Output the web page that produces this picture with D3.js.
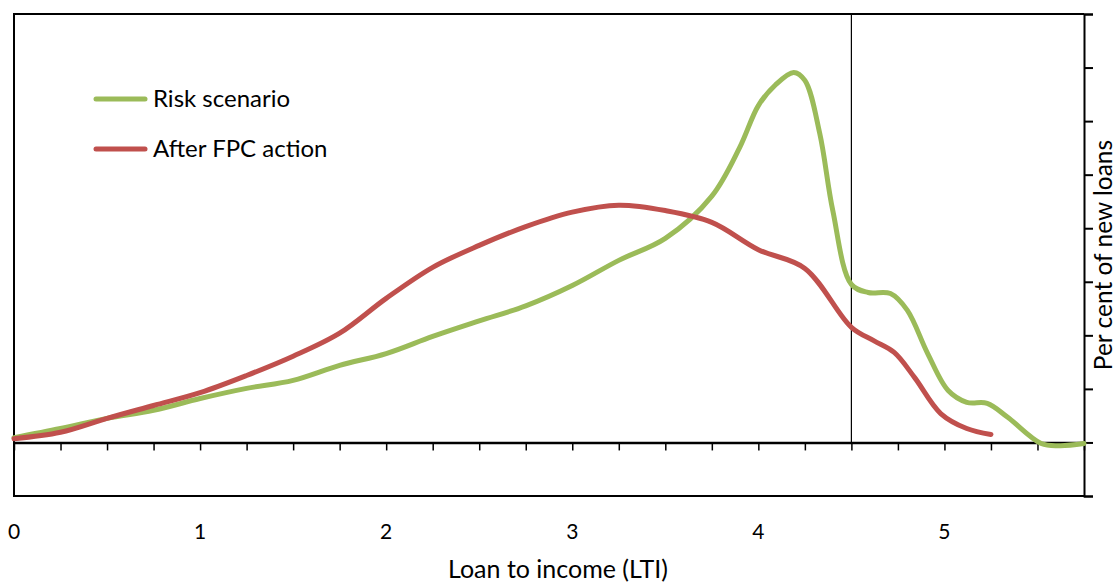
<!DOCTYPE html>
<html>
<head>
<meta charset="utf-8">
<script src="https://cdn.jsdelivr.net/npm/d3@7"></script>
<style>
  body { margin: 0; background: #fff; }
  text { font-family: Lato, "Open Sans", sans-serif; fill: #000; }
</style>
</head>
<body>
<div id="chart"></div>
<script>
// LTI values and density (arbitrary units)
const riskLti = [0, 0.25, 0.5, 0.75, 1.0, 1.25, 1.5, 1.75, 2.0, 2.25, 2.5, 2.75, 3.0, 3.25, 3.5, 3.75, 3.9, 4.0, 4.09, 4.19, 4.25, 4.33, 4.4, 4.5, 4.59, 4.71, 4.8, 4.91, 5.02, 5.12, 5.23, 5.34, 5.52, 5.62, 5.75];
const riskValues = [0.09, 0.26, 0.45, 0.6, 0.82, 1.01, 1.16, 1.44, 1.66, 1.98, 2.27, 2.55, 2.93, 3.4, 3.81, 4.6, 5.51, 6.29, 6.67, 6.91, 6.76, 5.77, 4.33, 2.95, 2.8, 2.78, 2.47, 1.66, 0.97, 0.75, 0.73, 0.47, -0.02, -0.06, -0.02];

const fpcLti = [0, 0.25, 0.5, 0.75, 1.0, 1.25, 1.5, 1.75, 2.0, 2.25, 2.5, 2.75, 3.0, 3.25, 3.5, 3.75, 4.0, 4.25, 4.5, 4.62, 4.73, 4.84, 4.98, 5.12, 5.25];
const fpcValues = [0.07, 0.19, 0.45, 0.69, 0.93, 1.25, 1.61, 2.04, 2.69, 3.27, 3.68, 4.03, 4.3, 4.43, 4.33, 4.11, 3.6, 3.25, 2.15, 1.9, 1.68, 1.21, 0.54, 0.26, 0.15];

const seriesNames = ["Risk scenario", "After FPC action"];
const seriesColors = ["#9bbb59", "#c0504d"];
const xTickLabels = [0, 1, 2, 3, 4, 5];
const ltiLimit = 4.5;

const width = 1116, height = 582;
const margin = { top: 14, right: 32, bottom: 86, left: 14 };
const innerW = width - margin.left - margin.right;
const innerH = height - margin.top - margin.bottom;

const svg = d3.select("#chart").append("svg")
  .attr("width", width)
  .attr("height", height);

const g = svg.append("g")
  .attr("transform", `translate(${margin.left},${margin.top})`);

const x = d3.scaleLinear().domain([0, 5.75]).range([0, innerW]);
const y = d3.scaleLinear().domain([-1, 8]).range([innerH, 0]);

// plot frame (left, top, bottom)
g.append("path")
  .attr("d", `M${innerW},0H0V${innerH}H${innerW}`)
  .attr("fill", "none")
  .attr("stroke", "#000")
  .attr("stroke-width", 2);

// right axis, no labels
const yAxis = g.append("g")
  .attr("transform", `translate(${innerW},0)`)
  .call(d3.axisRight(y).tickValues(d3.range(-1, 9)).tickSize(9).tickFormat(""));
yAxis.select(".domain").attr("stroke-width", 2);
yAxis.selectAll(".tick line").attr("stroke-width", 2);

// zero axis with quarter ticks
const xAxis = g.append("g")
  .attr("transform", `translate(0,${y(0)})`)
  .call(d3.axisBottom(x).tickValues(d3.range(0, 5.76, 0.25)).tickSize(8).tickSizeOuter(0).tickFormat(""));
xAxis.select(".domain").attr("stroke-width", 2.5);
xAxis.selectAll(".tick line").attr("stroke-width", 1.5);

// tick labels below the frame
g.selectAll("text.xlab")
  .data(xTickLabels)
  .join("text")
  .attr("class", "xlab")
  .attr("x", d => x(d))
  .attr("y", 525)
  .attr("text-anchor", "middle")
  .style("font-size", "21px")
  .text(d => d);

// LTI limit line
g.append("line")
  .attr("x1", x(ltiLimit)).attr("x2", x(ltiLimit))
  .attr("y1", 0).attr("y2", y(0))
  .attr("stroke", "#000")
  .attr("stroke-width", 1.2);

const line = d3.line()
  .x(d => x(d[0]))
  .y(d => y(d[1]))
  .curve(d3.curveCatmullRom.alpha(0.5));

const series = [
  d3.zip(riskLti, riskValues),
  d3.zip(fpcLti, fpcValues)
];

g.selectAll("path.series")
  .data(series)
  .join("path")
  .attr("class", "series")
  .attr("d", line)
  .attr("fill", "none")
  .attr("stroke", (d, i) => seriesColors[i])
  .attr("stroke-width", 5)
  .attr("stroke-linecap", "round")
  .attr("stroke-linejoin", "round");

// legend
const legend = g.selectAll("g.legend")
  .data(seriesNames)
  .join("g")
  .attr("class", "legend")
  .attr("transform", (d, i) => `translate(82,${85 + i * 50})`);

legend.append("line")
  .attr("x1", 0).attr("x2", 49)
  .attr("stroke", (d, i) => seriesColors[i])
  .attr("stroke-width", 5)
  .attr("stroke-linecap", "round");

legend.append("text")
  .attr("x", 57)
  .attr("y", 8)
  .style("font-size", "24px")
  .text(d => d);

// axis titles
svg.append("text")
  .attr("x", 558)
  .attr("y", 578)
  .attr("text-anchor", "middle")
  .style("font-size", "25px")
  .text("Loan to income (LTI)");

svg.append("text")
  .attr("transform", `translate(1112,${margin.top + innerH / 2}) rotate(-90)`)
  .attr("text-anchor", "middle")
  .style("font-size", "24.5px")
  .text("Per cent of new loans");
</script>
</body>
</html>
